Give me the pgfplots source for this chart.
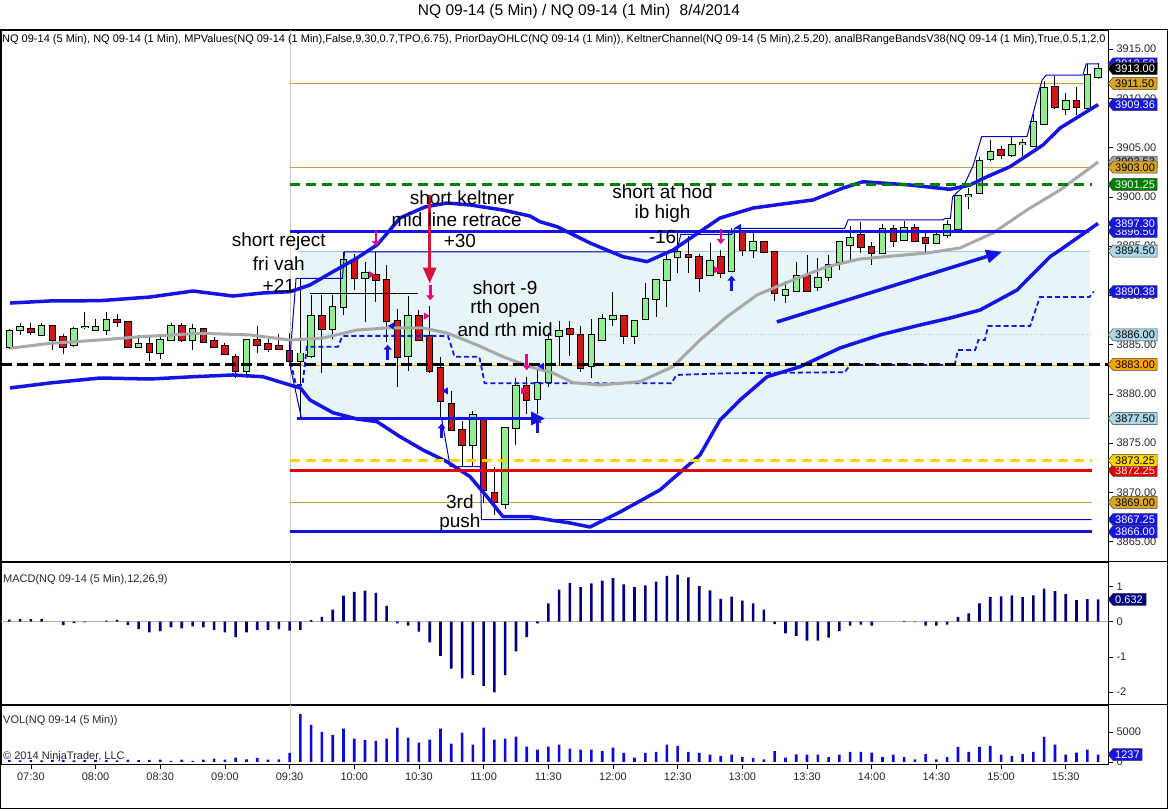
\documentclass[border=0pt]{standalone}
\usepackage{fontspec}
\setmainfont{Liberation Sans}
\usepackage{pgfplots}
\pgfplotsset{compat=1.18}
\usepackage{pgfplotstable}
\usetikzlibrary{arrows.meta}

\definecolor{kblue}{RGB}{20,20,230}
\definecolor{upg}{RGB}{144,238,144}
\definecolor{dnr}{RGB}{210,20,20}
\definecolor{ctan}{RGB}{215,155,45}
\definecolor{ibfill}{RGB}{231,244,248}
\definecolor{ibline}{RGB}{160,205,222}
\definecolor{cgold}{RGB}{255,215,0}
\definecolor{kgray}{RGB}{168,168,168}
\definecolor{dgreen}{RGB}{0,128,0}
\definecolor{crim}{RGB}{215,20,60}
\definecolor{cnavy}{RGB}{0,0,128}
\definecolor{grod}{RGB}{218,165,32}
\definecolor{corange}{RGB}{255,165,0}
\definecolor{lblue}{RGB}{173,216,230}
\definecolor{vblue}{RGB}{10,10,220}
\definecolor{thinb}{RGB}{0,0,200}

\pgfplotstableread{
i O H L C
0 3884.8 3886.6 3884.6 3886.4
1 3886.5 3887.2 3886.0 3886.8
3 3886.0 3887.2 3885.9 3886.9
6 3885.0 3886.8 3884.8 3886.6
7 3886.8 3888.3 3886.6 3886.85
8 3886.5 3887.6 3886.5 3886.8
9 3886.5 3888.3 3886.0 3887.5
12 3884.8 3886.0 3884.8 3885.1
14 3884.1 3885.9 3883.5 3885.5
15 3885.5 3887.2 3885.5 3886.9
17 3885.5 3887.1 3884.5 3886.6
22 3882.3 3885.5 3881.6 3885.5
27 3883.3 3891.7 3877.6 3884.1
28 3883.8 3890.0 3883.6 3887.9
30 3886.6 3890.0 3885.6 3888.8
31 3888.8 3894.4 3888.0 3893.6
33 3891.8 3893.4 3887.3 3892.3
37 3883.8 3889.9 3882.3 3887.9
43 3874.8 3878.3 3872.6 3877.9
46 3868.8 3876.5 3868.3 3876.5
47 3876.5 3881.6 3874.8 3880.8
49 3879.5 3882.4 3878.0 3881.1
50 3881.2 3886.2 3880.7 3885.5
51 3885.9 3887.4 3882.8 3886.4
54 3882.8 3887.6 3881.6 3886.0
55 3885.5 3888.1 3885.5 3887.6
56 3887.6 3890.3 3886.9 3887.9
58 3885.9 3887.4 3885.1 3887.4
59 3887.6 3891.3 3887.6 3889.6
60 3889.6 3891.6 3887.8 3891.6
61 3891.6 3894.1 3888.8 3893.6
62 3893.9 3896.3 3892.3 3894.4
65 3892.1 3895.3 3892.1 3893.5
67 3892.5 3896.8 3892.5 3896.4
69 3894.6 3896.3 3893.8 3895.4
72 3890.0 3891.5 3889.2 3890.6
73 3890.5 3893.4 3890.5 3892.0
75 3890.8 3893.8 3890.5 3891.8
76 3891.9 3894.1 3891.5 3893.1
77 3893.4 3895.4 3892.6 3895.4
78 3895.1 3897.0 3893.6 3895.8
81 3894.3 3897.2 3894.3 3896.7
83 3895.6 3897.6 3895.6 3896.8
86 3895.3 3896.4 3895.3 3896.1
87 3896.1 3897.6 3895.8 3897.1
88 3896.7 3900.1 3896.7 3900.1
89 3900.1 3900.9 3898.8 3900.15
90 3900.4 3904.1 3900.4 3903.6
91 3903.8 3905.8 3903.6 3904.6
93 3904.3 3906.1 3904.1 3905.3
94 3905.4 3905.9 3904.1 3905.45
95 3905.2 3908.4 3905.2 3907.6
96 3907.4 3911.8 3907.4 3911.1
98 3908.9 3910.5 3908.3 3909.7
100 3909.0 3913.5 3909.0 3912.4
101 3912.2 3913.6 3912.0 3913.0
}\upc

\pgfplotstableread{
i O H L C
2 3886.6 3887.2 3886.0 3886.3
4 3886.9 3886.9 3884.5 3885.5
5 3885.8 3886.1 3884.1 3884.8
10 3887.5 3888.1 3886.8 3887.3
11 3887.3 3887.3 3884.8 3884.8
13 3885.1 3885.9 3883.3 3884.3
16 3886.9 3887.2 3885.3 3885.5
18 3886.6 3886.6 3885.3 3885.3
19 3885.4 3885.8 3884.8 3884.8
20 3884.9 3885.2 3884.1 3884.1
21 3883.8 3884.1 3881.6 3882.3
23 3885.5 3886.9 3884.1 3885.0
24 3885.1 3885.9 3884.3 3884.6
25 3884.9 3886.1 3884.6 3884.6
26 3884.4 3886.2 3883.0 3883.3
29 3887.9 3890.0 3882.1 3886.6
32 3893.6 3894.2 3890.5 3891.8
34 3892.1 3894.4 3889.3 3891.6
35 3891.6 3893.1 3885.3 3887.4
36 3887.4 3888.6 3880.7 3883.8
38 3887.9 3888.5 3885.5 3885.5
39 3885.9 3888.9 3882.1 3882.3
40 3882.6 3883.7 3877.5 3879.3
41 3879.0 3880.3 3876.3 3876.3
42 3876.3 3877.3 3872.6 3874.8
44 3877.4 3877.6 3868.9 3870.3
45 3870.0 3872.6 3867.7 3869.0
48 3880.8 3881.7 3878.0 3879.4
52 3886.6 3887.4 3883.9 3886.1
53 3886.0 3886.9 3882.2 3882.6
57 3887.9 3887.9 3885.1 3885.9
63 3894.1 3896.0 3892.3 3893.9
64 3893.9 3894.2 3890.3 3891.8
66 3893.9 3894.6 3891.8 3892.3
68 3896.4 3896.4 3894.0 3894.6
70 3895.4 3895.4 3894.4 3894.4
71 3894.4 3894.4 3889.4 3890.2
74 3892.0 3894.1 3890.5 3890.5
79 3896.1 3897.5 3894.3 3894.9
80 3894.9 3895.4 3893.1 3894.3
82 3896.7 3897.1 3894.9 3895.5
84 3896.8 3897.2 3895.5 3895.5
85 3895.8 3896.3 3894.4 3895.3
92 3904.8 3905.2 3903.8 3904.3
97 3911.1 3912.3 3908.9 3909.1
99 3909.7 3911.2 3908.3 3909.1
}\dnc

\pgfplotstableread{
i v
0 300
1 250
2 300
3 250
4 350
5 300
6 250
7 300
8 350
9 300
10 250
11 400
12 300
13 350
14 400
15 200
16 400
17 170
18 400
19 560
20 400
21 720
22 450
23 700
24 400
25 450
26 1500
27 8000
28 6170
29 5000
30 4500
31 5560
32 3890
33 3670
34 3500
35 3890
36 5720
37 4060
38 3220
39 3720
40 5560
41 3060
42 4890
43 2890
44 5720
45 3720
46 3890
47 4220
48 2560
49 2060
50 2560
51 2890
52 2220
53 2060
54 2060
55 1830
56 2390
57 1500
58 720
59 1500
60 1670
61 2890
62 2670
63 1670
64 1500
65 1220
66 1000
67 1220
68 830
69 670
70 440
71 1830
72 720
73 1280
74 1220
75 1220
76 830
77 1220
78 1670
79 1670
80 1560
81 830
82 1220
83 830
84 440
85 1330
86 440
87 830
88 2500
89 1670
90 2500
91 2670
92 1220
93 1000
94 1330
95 1670
96 4170
97 2890
98 1220
99 1560
100 2060
101 1237
}\vol

\pgfplotstableread{
i m
0 0.057
1 0.076
2 0.076
3 0.076
4 0
5 -0.095
6 -0.04
7 -0.02
8 0
9 0.03
10 0.05
11 -0.095
12 -0.21
13 -0.30
14 -0.27
15 -0.16
16 -0.19
17 -0.13
18 -0.16
19 -0.23
20 -0.30
21 -0.44
22 -0.30
23 -0.23
24 -0.23
25 -0.21
26 -0.25
27 -0.23
28 0.05
29 0.14
30 0.34
31 0.74
32 0.85
33 0.88
34 0.82
35 0.45
36 -0.05
37 -0.11
38 -0.28
39 -0.59
40 -0.97
41 -1.33
42 -1.61
43 -1.51
44 -1.82
45 -2.01
46 -1.52
47 -0.84
48 -0.44
49 -0.05
50 0.52
51 0.91
52 1.10
53 0.98
54 1.09
55 1.17
56 1.24
57 1.06
58 0.98
59 1.03
60 1.14
61 1.30
62 1.34
63 1.26
64 1.01
65 0.89
66 0.65
67 0.71
68 0.60
69 0.52
70 0.34
71 -0.07
72 -0.33
73 -0.40
74 -0.54
75 -0.54
76 -0.45
77 -0.26
78 -0.11
79 -0.08
80 -0.11
81 0
82 0
83 0.02
84 -0.01
85 -0.11
86 -0.11
87 -0.08
88 0.14
89 0.24
90 0.52
91 0.70
92 0.72
93 0.75
94 0.70
95 0.75
96 0.94
97 0.87
98 0.78
99 0.61
100 0.64
101 0.632
}\macd

\newcommand{\wicks}[1]{\addplot[draw=none, mark=none, forget plot, error bars/.cd, y dir=both, y explicit, error mark=none, error bar style={draw=black, solid, line width=1pt}] table[x=i, y expr={(\thisrow{H}+\thisrow{L})/2}, y error expr={(\thisrow{H}-\thisrow{L})/2}] {#1};}
\newcommand{\bodies}[2]{%
\addplot[draw=none, mark=none, forget plot, error bars/.cd, y dir=both, y explicit, error mark=none, error bar style={draw=black, solid, line width=7.5pt}] table[x=i, y expr={(\thisrow{O}+\thisrow{C})/2}, y error expr={abs(\thisrow{C}-\thisrow{O})/2+0.1}] {#1};
\addplot[draw=none, mark=none, forget plot, error bars/.cd, y dir=both, y explicit, error mark=none, error bar style={draw=#2, solid, line width=5.5pt}] table[x=i, y expr={(\thisrow{O}+\thisrow{C})/2}, y error expr={abs(\thisrow{C}-\thisrow{O})/2}] {#1};}

\newcommand{\flag}[5]{%
 \filldraw[fill=#3, draw=black!75, line width=0.5pt] (#2) -- ++(5pt,6pt) -- ++(#1pt,0pt) -- ++(0pt,-12pt) -- ++(-#1pt,0pt) -- cycle;
 \node[text=#4, font=\fontsize{11}{12}\selectfont, inner sep=0pt, anchor=west] at ([xshift=7pt]#2) {#5};}
\newcommand{\annfont}{\fontsize{19}{22}\selectfont}
\newcommand{\mdown}[3]{\draw[magenta, line width=2.5pt, -{Triangle[width=8pt,length=5pt]}] (axis cs:#1,#2) -- (axis cs:#1,#3);}
\newcommand{\bup}[3]{\draw[kblue, line width=2.5pt, -{Triangle[width=8pt,length=5pt]}] (axis cs:#1,#2) -- (axis cs:#1,#3);}
\newcommand{\mtri}[2]{\fill[magenta] (axis cs:#1,#2) ++(-2.5pt,3.5pt) -- ++(6pt,-3.5pt) -- ++(-6pt,-3.5pt) -- cycle;}
\newcommand{\btri}[2]{\fill[kblue] (axis cs:#1,#2) ++(3pt,3.5pt) -- ++(-6pt,-3.5pt) -- ++(6pt,-3.5pt) -- cycle;}

\pgfplotsset{panel/.style={scale only axis, width=1107pt, xmin=-0.77, xmax=101.92, anchor=south west,
  clip mode=individual, axis line style={black, line width=0.9pt}, tick style={black, line width=0.6pt},
  tick align=outside, major tick length=5pt, ytick pos=right, yticklabel pos=right,
  ticklabel style={font=\fontsize{11}{12}\selectfont, text=black!85}, xtick=\empty}}

\begin{document}
\begin{tikzpicture}
\path[use as bounding box] (0pt,0pt) rectangle (1168pt,810pt);

% ---------------- main price panel ----------------
\begin{axis}[panel, at={(1pt,248pt)}, height=532pt, ymin=3862.94, ymax=3916.93,
  ytick={3865,3870,...,3915},
  yticklabels={3865.00,3870.00,3875.00,3880.00,3885.00,3890.00,3895.00,3900.00,3905.00,3910.00,3915.00}]
% IB box
\addplot[draw=none, fill=ibfill] coordinates {(27,3877.5) (100.25,3877.5) (100.25,3894.5) (27,3894.5)} -- cycle;
\addplot[ibline, line width=1pt] coordinates {(27,3894.5) (100.25,3894.5)};
\addplot[ibline, line width=1pt] coordinates {(27,3877.5) (100.25,3877.5)};
\addplot[ibline, line width=0.8pt, dotted] coordinates {(27,3886) (100.25,3886)};
\addplot[gray!40, line width=0.8pt] coordinates {(26.04,3862.94) (26.04,3916.93)};
% thin prior-day lines
\addplot[ctan, line width=1.1pt] coordinates {(26.04,3911.5) (100.4,3911.5)};
\addplot[ctan, line width=1.1pt] coordinates {(26.04,3903) (100.4,3903)};
\addplot[ctan, line width=1.1pt] coordinates {(26.04,3869) (100.4,3869)};
\addplot[corange, line width=1pt] coordinates {(26.04,3882.85) (100.4,3882.85)};
% candles
\wicks{\upc}
\wicks{\dnc}
\bodies{\upc}{upg}
\bodies{\dnc}{dnr}
% thin running high / low, black range line
\addplot[thinb, line width=1pt] coordinates {(26.0,3883.1) (26.6,3891.73) (30.9,3891.73) (31.1,3894.42) (61.9,3894.42) (62.3,3896.2) (67.0,3896.2) (67.3,3896.8) (77.5,3896.8) (77.8,3897.65) (86.6,3897.65) (86.8,3897.82) (87.3,3897.82) (87.5,3900.0) (88.5,3901.03) (89.4,3903.13) (90.2,3906.10) (94.4,3906.10) (95.3,3909.82) (95.8,3911.85) (96.2,3912.36) (99.6,3912.36) (99.9,3913.5) (101.1,3913.5)};
\addplot[thinb, line width=1pt] coordinates {(26.0,3883.1) (27.1,3877.55) (40.1,3877.55) (40.9,3872.62) (43.7,3872.62) (43.8,3867.25) (100.4,3867.25)};
\addplot[black, line width=0.8pt] coordinates {(27.9,3890.21) (37.9,3890.21)};
% MP dashed
\addplot[kblue, line width=1.8pt, dash pattern=on 5pt off 3pt] coordinates {(26.1,3883.2) (26.6,3880.9) (27.2,3880.9) (27.6,3884.79) (30.5,3884.79) (30.9,3885.87) (40.7,3885.87) (41.3,3883.77) (43.6,3883.77) (44.1,3881.07) (61.4,3881.07) (61.9,3881.92) (66.4,3882.09) (77.5,3882.2) (78.0,3882.93) (87.7,3882.93) (88.0,3884.45) (89.6,3884.45) (89.9,3885.47) (90.5,3885.47) (90.8,3886.89) (94.7,3886.89) (95.6,3889.83) (100.2,3889.83) (100.6,3890.38)};
% Keltner
\addplot[kgray, line width=3pt, line join=round] coordinates {(0.06,3884.63) (3.78,3885.13) (8.41,3885.47) (12.12,3885.80) (17.69,3886.15) (22.33,3885.98) (26.04,3885.47) (29.10,3885.67) (32.25,3886.48) (35.04,3886.69) (38.37,3886.69) (40.60,3886.18) (43.39,3884.96) (45.80,3883.77) (48.30,3882.76) (50.44,3882.12) (52.29,3881.14) (54.80,3880.90) (58.50,3881.24) (61.57,3882.76) (64.07,3885.47) (66.58,3887.83) (69.36,3890.04) (72.70,3891.56) (75.85,3892.91) (78.92,3893.69) (85.13,3894.30) (88.19,3894.81) (91.26,3896.33) (94.41,3898.67) (97.47,3900.69) (101.0,3903.53)};
\addplot[kblue, line width=3.5pt, line join=round] coordinates {(0.06,3889.22) (3.78,3889.43) (8.41,3889.46) (13.05,3889.83) (17.04,3890.44) (20.75,3889.93) (23.53,3890.24) (26.04,3890.37) (27.89,3891.05) (30.03,3892.40) (32.25,3893.79) (34.11,3895.11) (35.31,3896.63) (36.24,3897.85) (38.56,3898.97) (40.60,3899.37) (42.74,3899.17) (45.80,3898.66) (48.30,3898.05) (49.23,3897.47) (50.81,3896.97) (53.87,3895.31) (56.93,3893.92) (59.16,3893.42) (61.57,3894.60) (64.07,3896.46) (65.93,3897.85) (68.99,3898.86) (72.42,3899.37) (74.56,3899.68) (77.34,3900.89) (79.20,3901.53) (80.49,3901.43) (83.55,3901.20) (87.27,3900.76) (89.12,3901.20) (90.70,3902.04) (92.83,3903.06) (95.89,3905.26) (97.47,3906.98) (101.0,3909.36)};
\addplot[kblue, line width=3.5pt, line join=round] coordinates {(0.06,3880.60) (3.78,3881.11) (8.41,3881.61) (13.05,3881.51) (17.04,3881.74) (20.75,3881.92) (23.53,3881.74) (26.04,3880.90) (27.0,3880.60) (27.89,3879.38) (30.03,3878.09) (32.25,3877.45) (34.11,3877.18) (36.24,3875.66) (38.37,3874.31) (40.60,3873.12) (42.74,3871.60) (44.31,3869.57) (45.80,3867.54) (48.30,3867.54) (50.16,3867.20) (52.02,3866.90) (53.87,3866.49) (56.65,3868.01) (60.36,3870.25) (64.07,3873.80) (65.93,3877.35) (67.79,3879.38) (70.29,3881.74) (73.35,3882.76) (77.06,3884.66) (80.77,3885.98) (84.48,3886.99) (87.27,3887.70) (90.05,3888.51) (93.48,3890.54) (96.54,3893.92) (97.47,3894.60) (101.0,3897.30)};
% thick levels
\addplot[dgreen, line width=3pt, dash pattern=on 10pt off 6pt] coordinates {(26.04,3901.25) (100.4,3901.25)};
\addplot[kblue, line width=3.5pt] coordinates {(26.04,3896.5) (100.2,3896.5)};
\addplot[cgold, line width=3pt, dash pattern=on 10pt off 6pt] coordinates {(26.04,3873.25) (100.4,3873.25)};
\addplot[red!90!black, line width=3.5pt] coordinates {(26.04,3872.25) (100.4,3872.25)};
\addplot[kblue, line width=3pt] coordinates {(26.04,3866) (100.4,3866)};
\addplot[black, line width=3pt, dash pattern=on 11pt off 5pt] coordinates {(-0.77,3883) (101.92,3883)};
% annotation arrows
\draw[kblue, line width=3.5pt, -{Triangle[width=13pt,length=14pt]}] (axis cs:26.7,3877.5) -- (axis cs:49.7,3877.5);
\draw[kblue, line width=3.5pt, -{Triangle[width=13pt,length=16pt]}] (axis cs:71.2,3887.3) -- (axis cs:92.1,3894.43);
\draw[crim, line width=3pt, -{Triangle[width=13pt,length=16pt]}] (axis cs:39,3900.2) -- (axis cs:39,3891.2);
\mdown{34}{3896.6}{3895.0}
\mdown{39.05}{3891.1}{3889.5}
\mdown{48}{3884.0}{3882.4}
\mdown{66}{3896.7}{3895.2}
\bup{35.1}{3883.4}{3885.0}
\bup{40.1}{3875.5}{3877.0}
\bup{49.0}{3876.0}{3877.6}
\bup{67.0}{3890.4}{3892.0}
\mtri{33.6}{3892.1}
\mtri{38.7}{3887.9}
\mtri{47.7}{3880.3}
\mtri{65.6}{3892.6}
\btri{35.4}{3886.9}
\btri{40.4}{3880.3}
\btri{49.3}{3882.8}
\btri{67.6}{3896.9}
% annotation texts
\node[font=\annfont] at (axis cs:25.0,3895.41) {short reject};
\node[font=\annfont] at (axis cs:25.0,3893.18) {fri vah};
\node[font=\annfont] at (axis cs:25.0,3890.95) {+21};
\node[font=\annfont] at (axis cs:42.0,3899.88) {short keltner};
\node[font=\annfont] at (axis cs:41.5,3897.65) {mid line retrace};
\node[font=\annfont] at (axis cs:41.8,3895.52) {+30};
\node[font=\annfont] at (axis cs:46.0,3890.75) {short -9};
\node[font=\annfont] at (axis cs:46.0,3888.61) {rth open};
\node[font=\annfont] at (axis cs:46.0,3886.48) {and rth mid};
\node[font=\annfont] at (axis cs:60.6,3900.49) {short at hod};
\node[font=\annfont] at (axis cs:60.6,3898.26) {ib high};
\node[font=\annfont] at (axis cs:60.6,3895.92) {-16};
\node[font=\annfont] at (axis cs:41.8,3869.03) {3rd};
\node[font=\annfont] at (axis cs:41.8,3866.90) {push};
% flag anchors
\coordinate (fa) at (axis cs:101.92,3913.50);
\coordinate (fb) at (axis cs:101.92,3913.00);
\coordinate (fc) at (axis cs:101.92,3911.50);
\coordinate (fd) at (axis cs:101.92,3909.36);
\coordinate (fe) at (axis cs:101.92,3903.53);
\coordinate (ff) at (axis cs:101.92,3903.00);
\coordinate (fg) at (axis cs:101.92,3901.25);
\coordinate (fh) at (axis cs:101.92,3896.50);
\coordinate (fi) at (axis cs:101.92,3897.30);
\coordinate (fj) at (axis cs:101.92,3894.50);
\coordinate (fk) at (axis cs:101.92,3890.38);
\coordinate (fl) at (axis cs:101.92,3886.00);
\coordinate (fm) at (axis cs:101.92,3883.00);
\coordinate (fn) at (axis cs:101.92,3877.50);
\coordinate (fo) at (axis cs:101.92,3872.25);
\coordinate (fp) at (axis cs:101.92,3873.25);
\coordinate (fq) at (axis cs:101.92,3869.00);
\coordinate (fr) at (axis cs:101.92,3867.25);
\coordinate (fs) at (axis cs:101.92,3866.00);
\end{axis}

% ---------------- MACD panel ----------------
\begin{axis}[panel, at={(1pt,105pt)}, height=143pt, ymin=-2.366, ymax=1.696,
  ytick={-2,-1,0,1}, yticklabels={-2,-1,0,1}]
\addplot[gray!60, line width=0.8pt] coordinates {(-0.77,0) (101.92,0)};
\addplot[gray!40, line width=0.8pt] coordinates {(26.04,-2.366) (26.04,1.696)};
\addplot[ybar, bar width=2.6pt, fill=cnavy, draw=none] table[x=i, y=m] {\macd};
\coordinate (ma) at (axis cs:101.92,0.632);
\end{axis}

% ---------------- VOL panel ----------------
\begin{axis}[panel, at={(1pt,46pt)}, height=59pt, ymin=-333, ymax=9500,
  ytick={0,5000}, yticklabels={0,5000},
  xtick={2,8,...,98}, xtick pos=bottom,
  xticklabels={07:30,08:00,08:30,09:00,09:30,10:00,10:30,11:00,11:30,12:00,12:30,13:00,13:30,14:00,14:30,15:00,15:30}]
\addplot[gray!40, line width=0.8pt] coordinates {(26.04,-333) (26.04,9500)};
\addplot[ybar, bar width=2.6pt, fill=vblue, draw=none] table[x=i, y=v] {\vol};
\coordinate (va) at (axis cs:101.92,1237);
\end{axis}

% frame and separators
\draw[line width=1pt] (0.5pt,1pt) rectangle (1167pt,780pt);
\draw[line width=1pt] (0.5pt,248pt) -- (1167pt,248pt);
\draw[line width=1pt] (0.5pt,105pt) -- (1167pt,105pt);

% flags
\flag{44}{fa}{kblue}{white}{3913.50}
\flag{44}{fb}{black}{white}{3913.00}
\flag{44}{fc}{grod}{black}{3911.50}
\flag{44}{fd}{kblue}{white}{3909.36}
\flag{44}{fe}{kgray}{black}{3903.53}
\flag{44}{ff}{grod}{black}{3903.00}
\flag{44}{fg}{dgreen}{white}{3901.25}
\flag{44}{fh}{kblue}{white}{3896.50}
\flag{44}{fi}{kblue}{white}{3897.30}
\flag{44}{fj}{lblue}{black}{3894.50}
\flag{44}{fk}{kblue}{white}{3890.38}
\flag{44}{fl}{lblue}{black}{3886.00}
\flag{44}{fm}{corange}{black}{3883.00}
\flag{44}{fn}{lblue}{black}{3877.50}
\flag{44}{fo}{red!90!black}{white}{3872.25}
\flag{44}{fp}{cgold}{black}{3873.25}
\flag{44}{fq}{grod}{black}{3869.00}
\flag{44}{fr}{kblue}{white}{3867.25}
\flag{44}{fs}{kblue}{white}{3866.00}
\flag{33}{ma}{cnavy}{white}{0.632}
\flag{29}{va}{kblue}{white}{1237}

% texts
\node[font=\fontsize{15.5}{17}\selectfont] at (579pt,798pt) {NQ 09-14 (5 Min) / NQ 09-14 (1 Min)\hspace{0.6em}8/4/2014};
\begin{scope}
\clip (1pt,760pt) rectangle (1107pt,780pt);
\node[anchor=west, font=\fontsize{11}{12}\selectfont, inner sep=0pt] at (2pt,770pt) {NQ 09-14 (5 Min), NQ 09-14 (1 Min), MPValues(NQ 09-14 (1 Min),False,9,30,0.7,TPO,6.75), PriorDayOHLC(NQ 09-14 (1 Min)), KeltnerChannel(NQ 09-14 (5 Min),2.5,20), analBRangeBandsV38(NQ 09-14 (1 Min),True,0.5,1,2,0};
\end{scope}
\node[anchor=west, font=\fontsize{11}{12}\selectfont, inner sep=0pt, text=black!85] at (3pt,230pt) {MACD(NQ 09-14 (5 Min),12,26,9)};
\node[anchor=west, font=\fontsize{11}{12}\selectfont, inner sep=0pt, text=black!85] at (3pt,89pt) {VOL(NQ 09-14 (5 Min))};
\node[anchor=west, font=\fontsize{11}{12}\selectfont, inner sep=0pt, text=black!85] at (3pt,53pt) {© 2014 NinjaTrader, LLC};
\end{tikzpicture}
\end{document}
